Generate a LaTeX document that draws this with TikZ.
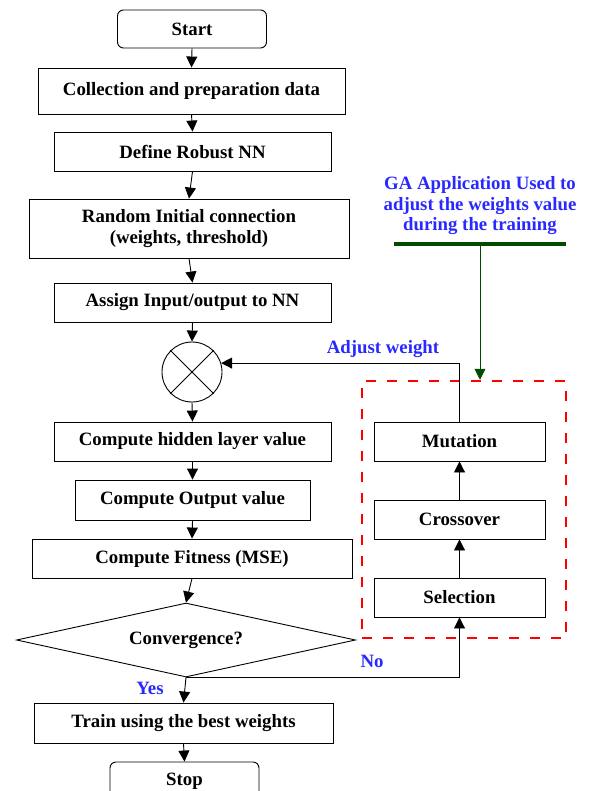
\documentclass[tikz,border=0pt]{standalone}
\usepackage{fontspec}
\setmainfont{Liberation Serif}
\usetikzlibrary{shapes.geometric,arrows.meta}
\definecolor{labelblue}{RGB}{40,40,255}
\definecolor{gagreen}{RGB}{0,75,0}

\begin{document}
\begin{tikzpicture}
  [x=1pt,y=-1pt,line width=0.9pt,
   every node/.style={font=\fontsize{18.8}{20.5}\selectfont\bfseries},
   box/.style={draw,rectangle,minimum height=39pt,inner sep=2pt},
   term/.style={box,rounded corners=6pt,minimum width=149pt,minimum height=38pt},
   arr/.style={-{Triangle[length=11pt,width=11pt]}},
   lbl/.style={text=labelblue}]
  \useasboundingbox (0,0) rectangle (601,791);

  % main column
  \node[term] (start) at (192,29) {Start};
  \node[box,minimum width=307pt,minimum height=46pt] (collect) at (191.5,91) {Collection and preparation data};
  \node[box,minimum width=277pt] (define) at (192.5,151.5) {Define Robust NN};
  \node[box,minimum width=320pt,minimum height=59pt,align=center] (init) at (189,228.5) {Random Initial connection\\(weights, threshold)};
  \node[box,minimum width=277pt] (assign) at (192.5,302.5) {Assign Input/output to NN};
  \node[draw,circle,minimum size=60pt,inner sep=0] (circ) at (192,372) {};
  \node[box,minimum width=277pt] (hidden) at (192.5,441.5) {Compute hidden layer value};
  \node[box,minimum width=235pt,minimum height=40pt] (output) at (192.5,500) {Compute Output value};
  \node[box,minimum width=320pt] (fitness) at (192,558.5) {Compute Fitness (MSE)};
  \node[draw,diamond,aspect=4.6,inner sep=0,minimum width=339pt,minimum height=74pt] (conv) at (186,640) {Convergence?};
  \node[box,minimum width=299pt,minimum height=40pt] (train) at (183.5,723) {Train using the best weights};
  \node[term] (stop) at (184.5,781) {Stop};

  % GA part
  \node[draw=red,dash pattern=on 10pt off 11pt,line width=2.5pt,minimum width=204pt,minimum height=257pt] (gabox) at (464,509.5) {};
  \node[box,minimum width=171pt] (mut) at (459.5,441.5) {Mutation};
  \node[box,minimum width=171pt] (cross) at (459.5,519.5) {Crossover};
  \node[box,minimum width=171pt] (sel) at (459.5,597.5) {Selection};
  \node[lbl,align=center] (ga) at (480,206) {GA Application Used to\\adjust the weights value\\during the training};
  \node[fill=gagreen,minimum width=172pt,minimum height=4pt,inner sep=0] (gabar) at (480,244) {};

  \node[lbl] (adj) at (383,349) {Adjust weight};
  \node[lbl] (yes) at (150,688) {Yes};
  \node[lbl] (no) at (372,661) {No};

  \draw (circ.north west) -- (circ.south east);
  \draw (circ.north east) -- (circ.south west);

  \draw[arr] (start.south) -- (collect.north);
  \draw[arr] (collect.south) -- (define.north);
  \draw[arr] (define.south) -- (init.north);
  \draw[arr] (init.south) -- (assign.north);
  \draw[arr] (assign.south) -- (circ.north);
  \draw[arr] (circ.south) -- (hidden.north);
  \draw[arr] (hidden.south) -- (output.north);
  \draw[arr] (output.south) -- (fitness.north);
  \draw[arr] (fitness.south) -- (conv.north);
  \draw[arr] (conv.south) -- (train.north);
  \draw[arr] (train.south) -- (stop.north);

  \draw[arr] (conv.south) -| (sel.south);
  \draw[arr] (sel.north) -- (cross.south);
  \draw[arr] (cross.north) -- (mut.south);
  \draw[arr] (mut.north) |- (circ.17);
  \draw[arr,gagreen] (gabar) -- (gabar |- gabox.north);
\end{tikzpicture}
\end{document}
